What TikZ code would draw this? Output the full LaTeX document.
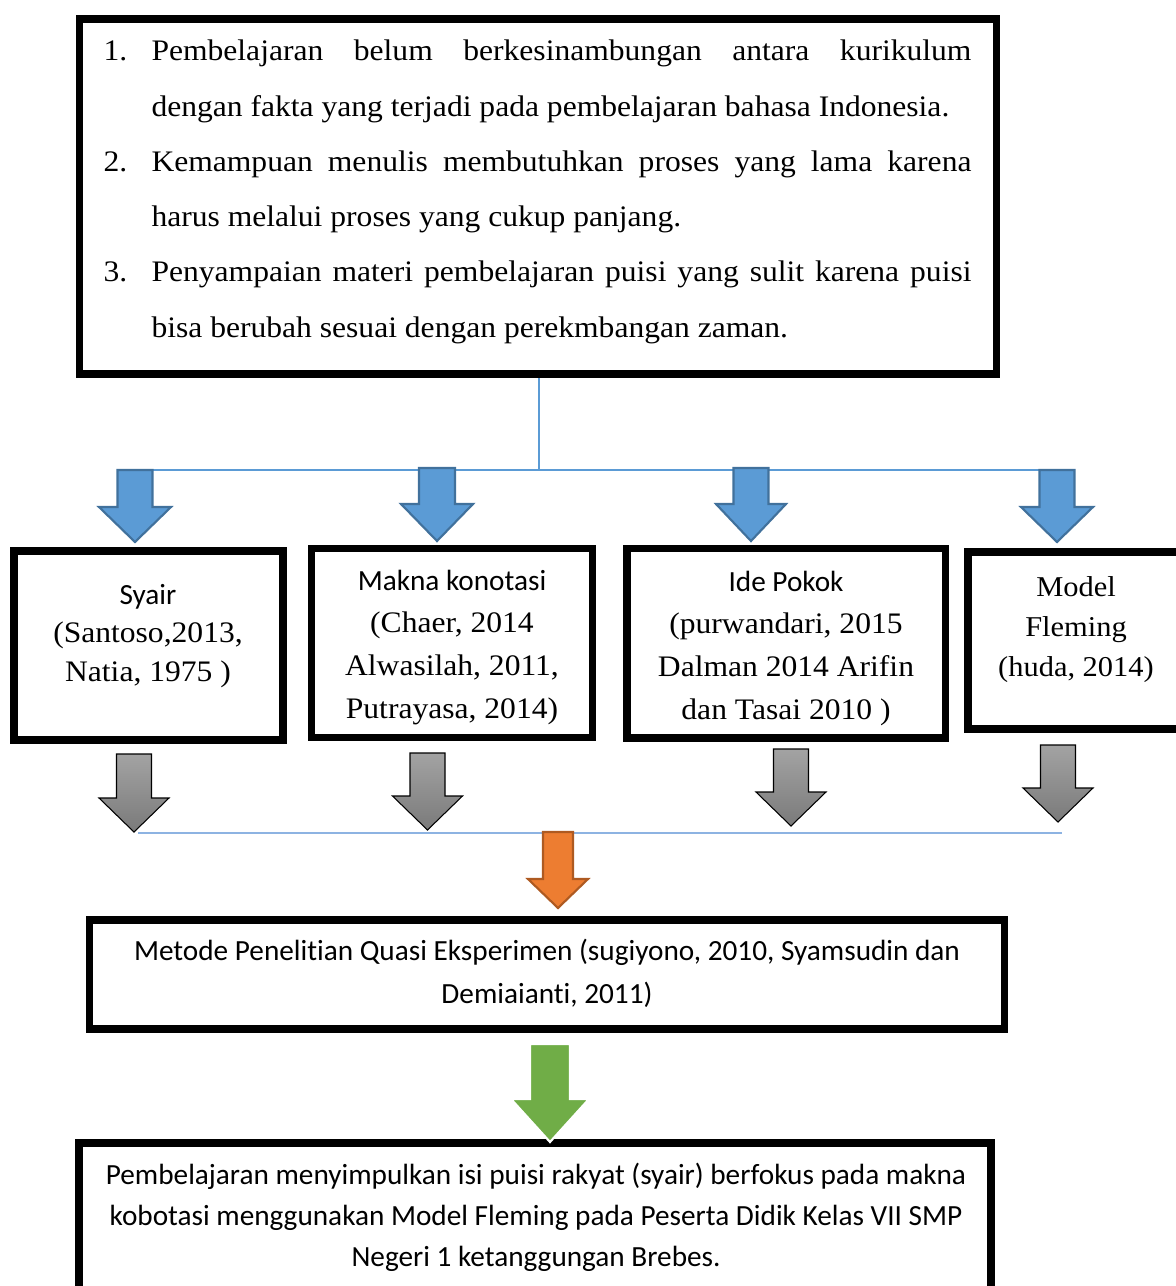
\documentclass[tikz,border=0pt]{standalone}
\usepackage{fontspec}
\setmainfont{Liberation Serif}[FakeStretch=1.06]
\newfontfamily\calibri{Carlito}[Ligatures=NoCommon]
\usepackage{xcolor}
\usepackage{tikz}
\usetikzlibrary{positioning}

\definecolor{arrowblue}{HTML}{5B9BD5}
\definecolor{arrowblueline}{HTML}{41719C}
\definecolor{linkblue}{HTML}{5B9BD5}
\definecolor{linklight}{HTML}{8DB3E2}
\definecolor{graytop}{HTML}{A3A3A3}
\definecolor{graybot}{HTML}{7A7A7A}
\definecolor{arroworange}{HTML}{ED7D31}
\definecolor{arroworangeline}{HTML}{AE5A21}
\definecolor{arrowgreen}{HTML}{70AD47}

\newcommand{\px}{0.376pt}
\newlength\numw \setlength\numw{18.05pt}
\newlength\linew \setlength\linew{308.3pt}
% block arrow pointing down: style, x, top, head, half shaft, half head, tip
\newcommand{\blockdown}[7]{%
  \draw[#1] (#2-#5,#3) -- (#2+#5,#3) -- (#2+#5,#4) -- (#2+#6,#4) -- (#2,#7)
    -- (#2-#6,#4) -- (#2-#5,#4) -- cycle;}

\begin{document}
\begin{tikzpicture}[
  x=0.376pt, y=-0.376pt,
  box/.style={draw, line width=3pt, inner sep=0pt, fill=white},
  txt/.style={inner sep=0pt, align=center, anchor=base},
  link/.style={draw=linkblue, line width=0.6pt},
  linklow/.style={draw=linklight, line width=0.6pt},
  bluearrow/.style={fill=arrowblue, draw=arrowblueline, line width=0.8pt},
  grayarrow/.style={top color=graytop, bottom color=graybot, draw=black, line width=0.4pt},
  orangearrow/.style={fill=arroworange, draw=arroworangeline, line width=0.8pt},
  greenarrow/.style={fill=arrowgreen, draw=white, line width=0.8pt}
]
  \useasboundingbox (0,0) rectangle (1176,1286);
  \clip (0,0) rectangle (1176,1286);

  % connectors
  \coordinate (split) at (539,470);
  \coordinate (fanL) at (135,470);
  \coordinate (fanR) at (1060,470);
  \coordinate (joinL) at (138,833);
  \coordinate (joinR) at (1062,833);

  % boxes
  \node[box, minimum width=917*\px, minimum height=355*\px] (problem) at (538,196.5) {};
  \node[box, minimum width=269*\px, minimum height=189*\px] (syair) at (148.5,645.5) {};
  \node[box, minimum width=281*\px, minimum height=189*\px] (makna) at (452,643) {};
  \node[box, minimum width=318.5*\px, minimum height=189.5*\px] (ide) at (786.25,643.25) {};
  \node[box, minimum width=216*\px, minimum height=177*\px] (fleming) at (1076,640.5) {};
  \node[box, minimum width=915*\px, minimum height=108.5*\px] (metode) at (547,974.25) {};
  \node[box, minimum width=912*\px, minimum height=167.5*\px] (result) at (535,1226.25) {};

  \draw[link] (problem.south -| split) -- (split);
  \draw[link] (fanL) -- (fanR);
  \draw[linklow] (joinL) -- (joinR);

  % texts (anchored at the baseline of the last line)
  \node[inner sep=0pt, align=left, anchor=base west, font=\fontsize{11.2}{20.76}\selectfont] (problemtxt) at (103,337) {%
    \makebox[\numw][l]{1.}\makebox[\linew][s]{Pembelajaran belum berkesinambungan antara kurikulum}\\
    \hspace*{\numw}dengan fakta yang terjadi pada pembelajaran bahasa Indonesia.\\
    \makebox[\numw][l]{2.}\makebox[\linew][s]{Kemampuan menulis membutuhkan proses yang lama karena}\\
    \hspace*{\numw}harus melalui proses yang cukup panjang.\\
    \makebox[\numw][l]{3.}\makebox[\linew][s]{Penyampaian materi pembelajaran puisi yang sulit karena puisi}\\
    \hspace*{\numw}bisa berubah sesuai dengan perekmbangan zaman.};
  \node[txt, font=\fontsize{11.2}{14.3}\selectfont] (syairtxt) at (148,681)
    {{\calibri\fontsize{11}{14.3}\selectfont Syair}\\(Santoso,2013,\\Natia, 1975 )};
  \node[txt, font=\fontsize{11.2}{16}\selectfont] (maknatxt) at (452,718)
    {{\calibri\fontsize{11}{16}\selectfont Makna konotasi}\\(Chaer, 2014\\Alwasilah, 2011,\\Putrayasa, 2014)};
  \node[txt, font=\fontsize{11.2}{16}\selectfont] (idetxt) at (786,719)
    {{\calibri\fontsize{11}{16}\selectfont Ide Pokok}\\(purwandari, 2015\\Dalman 2014 Arifin\\dan Tasai 2010 )};
  \node[txt, font=\fontsize{10.8}{14.9}\selectfont] (flemingtxt) at (1076,676)
    {Model\\Fleming\\(huda, 2014)};
  \node[txt, font=\calibri\fontsize{11}{15.8}\selectfont] (metodetxt) at (547,1003)
    {Metode Penelitian Quasi Eksperimen (sugiyono, 2010, Syamsudin dan\\Demiaianti, 2011)};
  \node[txt, font=\calibri\fontsize{11}{15.4}\selectfont] (resulttxt) at (536,1266)
    {Pembelajaran menyimpulkan isi puisi rakyat (syair) berfokus pada makna\\
     kobotasi menggunakan Model Fleming pada Peserta Didik Kelas VII SMP\\
     Negeri 1 ketanggungan Brebes.};

  % block arrows
  \blockdown{bluearrow}{135}{470}{507}{17.5}{36}{542}
  \blockdown{bluearrow}{437}{468}{504}{18}{36}{541}
  \blockdown{bluearrow}{751}{468}{504}{17.5}{35}{541}
  \blockdown{bluearrow}{1057}{470}{507}{17.5}{36}{542}
  \blockdown{grayarrow}{134}{754}{798}{17.5}{35}{832}
  \blockdown{grayarrow}{427.5}{753}{796}{17.5}{35}{830}
  \blockdown{grayarrow}{791}{749}{792}{17.5}{35}{826}
  \blockdown{grayarrow}{1058}{745}{788}{17.5}{35}{822}
  \blockdown{orangearrow}{558}{832}{879}{15}{30}{908}
  \blockdown{greenarrow}{550}{1044}{1099}{20}{39}{1142}
\end{tikzpicture}
\end{document}
